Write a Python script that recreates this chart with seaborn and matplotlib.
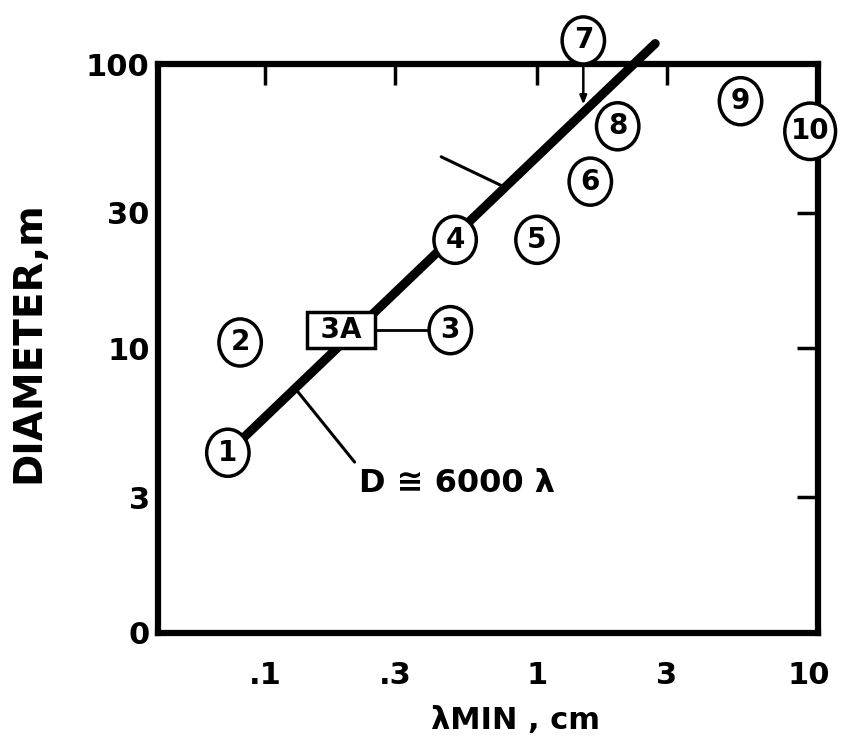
import numpy as np
import matplotlib
matplotlib.use('Agg')
import matplotlib.pyplot as plt
import seaborn as sns
from matplotlib.path import Path
from matplotlib.transforms import Affine2D
from matplotlib.ticker import NullLocator

# circled points (lambda_min in cm, diameter in m)
point_labels = ['1', '2', '3', '4', '5', '6', '7', '8', '9', '10']
point_lam = [0.073, 0.081, 0.48, 0.50, 1.0, 1.57, 1.48, 1.98, 5.6, 10.1]
point_diam = [4.3, 10.5, 11.6, 24.1, 24.1, 38.6, 121, 60.4, 74, 58]

# boxed point
box_label = '3A'
box_lam = 0.19
box_diam = 11.6

# D ~ 6000 lambda trend line
fit_lam = [0.073, 2.72]
fit_diam = [4.3, 118]

x_ticks = [0.1, 0.3, 1, 3, 10]
x_ticklabels = ['.1', '.3', '1', '3', '10']
y_ticks = [1, 3, 10, 30, 100]
y_ticklabels = ['0', '3', '10', '30', '100']

sns.set_style('white')
plt.rcParams['font.family'] = ['DejaVu Sans']
plt.rcParams['font.weight'] = 'bold'
plt.rcParams['text.color'] = 'black'
plt.rcParams['axes.labelcolor'] = 'black'


def diam_on_fit(lam):
    # position on the trend line (log-log interpolation)
    return 10 ** np.interp(np.log10(lam), np.log10(fit_lam), np.log10(fit_diam))


fig = plt.figure(figsize=(8.42, 7.46), dpi=100)
ax = fig.add_axes([0.1876, 0.1515, 0.784, 0.7627])

# trend line
sns.lineplot(x=fit_lam, y=fit_diam, color='black', lw=6.5, solid_capstyle='round',
             clip_on=False, zorder=3, ax=ax)

# slightly tall ellipse as marker
ellipse = Path.unit_circle().transformed(Affine2D().scale(0.9, 1.0))
sizes = [1650 if len(l) > 1 else 1150 for l in point_labels]
sns.scatterplot(x=point_lam, y=point_diam, s=sizes, marker=ellipse, color='white',
                edgecolor='black', linewidth=2.5, zorder=5, clip_on=False, ax=ax)
for lab, x, y in zip(point_labels, point_lam, point_diam):
    ax.text(x, y, lab, ha='center', va='center', fontsize=20, fontweight='bold',
            zorder=6, clip_on=False)

# 3A box and its link to point 3
ax.plot([box_lam, point_lam[2]], [box_diam, point_diam[2]], color='black', lw=2, zorder=4)
ax.text(box_lam, box_diam, ' ' + box_label + ' ', ha='center', va='center', fontsize=20,
        fontweight='bold',
        bbox=dict(boxstyle='square,pad=0.15', fc='white', ec='black', lw=2.5), zorder=6)

ax.set_xscale('log')
ax.set_yscale('log')
ax.set_xlim(0.0404, 10.8)
ax.set_ylim(1, 100)

# formula label with leader
lead_lam = 0.129
ax.annotate('D ≅ 6000 λ', xy=(lead_lam, diam_on_fit(lead_lam)), xytext=(46, -57),
            textcoords='offset points', ha='left', va='top', fontsize=23, fontweight='bold',
            arrowprops=dict(arrowstyle='-', lw=2.2, color='black', relpos=(0, 1),
                            shrinkA=2, shrinkB=0), zorder=4)

# unlabeled leader on the upper part of the line
lead2_lam = 0.763
ax.annotate('', xy=(lead2_lam, diam_on_fit(lead2_lam)), xytext=(-46, 22),
            textcoords='offset points',
            arrowprops=dict(arrowstyle='-', lw=2.2, color='black', shrinkA=0, shrinkB=0),
            zorder=4)

# arrow from point 7 down into the frame
arrow_tip_diam = 72
ax.annotate('', xy=(point_lam[6], arrow_tip_diam), xytext=(0, 43), textcoords='offset points',
            arrowprops=dict(arrowstyle='-|>,head_length=0.5,head_width=0.2', lw=1.8,
                            color='black', shrinkA=0, shrinkB=0),
            zorder=4, annotation_clip=False)

ax.set_xticks(x_ticks)
ax.set_xticklabels(x_ticklabels)
ax.set_yticks(y_ticks)
ax.set_yticklabels(y_ticklabels)
ax.xaxis.set_minor_locator(NullLocator())
ax.yaxis.set_minor_locator(NullLocator())

ax.tick_params(which='major', direction='in', length=15, width=2.5, top=True, right=True,
               labelsize=22, color='black', labelcolor='black')
ax.tick_params(axis='x', pad=20)
ax.tick_params(axis='y', pad=6)
for lab in ax.get_xticklabels() + ax.get_yticklabels():
    lab.set_fontweight('bold')

xt = ax.xaxis.get_major_ticks()
xt[-1].tick1line.set_visible(False)
xt[-1].tick2line.set_visible(False)
yt = ax.yaxis.get_major_ticks()
for t in (yt[0], yt[-1]):
    t.tick1line.set_visible(False)
    t.tick2line.set_visible(False)
yt[1].tick1line.set_visible(False)

for s in ax.spines.values():
    s.set_linewidth(4.5)
    s.set_color('black')

ax.set_xlabel('λMIN , cm', fontsize=22, fontweight='bold')
ax.xaxis.set_label_coords(0.541, -0.128)
ax.set_ylabel('DIAMETER,m', fontsize=28, fontweight='bold')
ax.yaxis.set_label_coords(-0.168, 0.511)

fig.savefig('out.png', dpi=100)
